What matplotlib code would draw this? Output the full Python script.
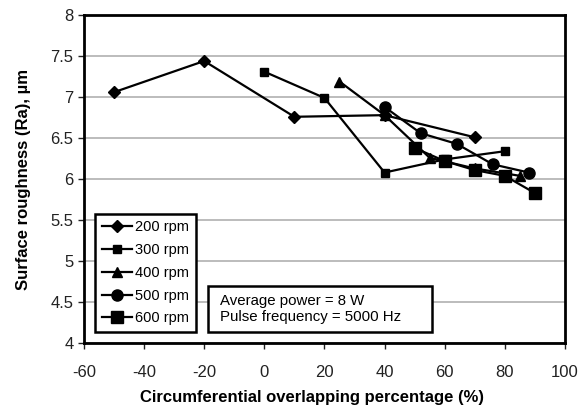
import matplotlib
matplotlib.use("Agg")
import matplotlib.pyplot as plt
from matplotlib.patches import Rectangle

plt.rcParams['font.family'] = ['Liberation Sans', 'DejaVu Sans']
plt.rcParams['axes.unicode_minus'] = False

x200 = [-50, -20, 10, 40, 70]
y200 = [7.06, 7.44, 6.76, 6.78, 6.51]
x300 = [0, 20, 40, 60, 80]
y300 = [7.31, 6.99, 6.08, 6.24, 6.34]
x400 = [25, 40, 55, 70, 85]
y400 = [7.19, 6.78, 6.26, 6.13, 6.04]
x500 = [40, 52, 64, 76, 88]
y500 = [6.88, 6.56, 6.43, 6.18, 6.08]
x600 = [50, 60, 70, 80, 90]
y600 = [6.38, 6.22, 6.11, 6.04, 5.83]

labels = ['200 rpm', '300 rpm', '400 rpm', '500 rpm', '600 rpm']
xticks = [-60, -40, -20, 0, 20, 40, 60, 80, 100]
yticks = [4, 4.5, 5, 5.5, 6, 6.5, 7, 7.5, 8]
ytick_labels = ['4', '4.5', '5', '5.5', '6', '6.5', '7', '7.5', '8']

fig = plt.figure(figsize=(5.83, 4.08), dpi=100)
ax = fig.add_axes([0.144, 0.159, 0.825, 0.804])

series = [(x200, y200, 'D', 6), (x300, y300, 's', 5.5), (x400, y400, '^', 7),
          (x500, y500, 'o', 8), (x600, y600, 's', 8)]
for (xs, ys, m, ms), lab in zip(series, labels):
    ax.plot(xs, ys, color='black', lw=1.6, marker=m, ms=ms, label=lab, zorder=3)

ax.set_xlim(-60, 100)
ax.set_ylim(4, 8)
ax.set_xticks(xticks)
ax.set_yticks(yticks)
ax.set_yticklabels(ytick_labels)
ax.yaxis.grid(True, color='#b0b0b0', lw=1.2)
ax.set_axisbelow(True)
for s in ax.spines.values():
    s.set_linewidth(2)
ax.tick_params(labelsize=12, length=4, width=1, direction='out', colors='#222222')
ax.tick_params(axis='x', pad=12)
ax.set_xlabel('Circumferential overlapping percentage (%)', fontsize=12, fontweight='bold')
ax.xaxis.set_label_coords(0.474, -0.142)
ax.set_ylabel('Surface roughness (Ra), µm', fontsize=12, fontweight='bold', labelpad=14)

leg = ax.legend(loc='lower left', bbox_to_anchor=(0.023, 0.034), fontsize=10.5, frameon=True,
                fancybox=False, edgecolor='black', handlelength=2.1, handletextpad=0.2,
                labelspacing=0.6, borderpad=0.45, borderaxespad=0, framealpha=1)
leg.get_frame().set_linewidth(1.8)

ax.add_patch(Rectangle((0.258, 0.034), 0.465, 0.140, transform=ax.transAxes,
                       fc='white', ec='black', lw=1.8, zorder=4))
ax.text(0.283, 0.104, 'Average power = 8 W\nPulse frequency = 5000 Hz', transform=ax.transAxes,
        fontsize=10.8, va='center', ha='left', linespacing=1.15, zorder=5)

fig.savefig('out.png', dpi=100)
